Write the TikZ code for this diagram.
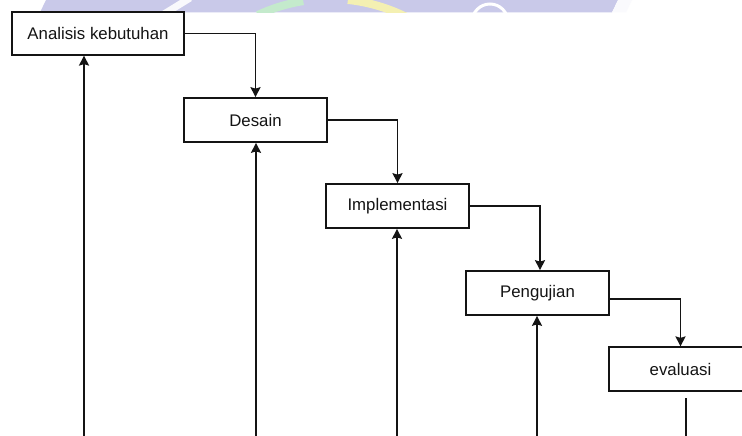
\documentclass[tikz,border=0pt]{standalone}
\usepackage{fontspec}
\setmainfont{Liberation Sans}
\usetikzlibrary{arrows.meta,calc}
\definecolor{band}{RGB}{201,201,233}
\definecolor{bandgreen}{RGB}{196,234,204}
\definecolor{bandyellow}{RGB}{244,240,178}
\definecolor{ink}{RGB}{20,20,20}
\tikzset{
  stage/.style={draw=ink, line width=1.7pt, fill=white, minimum height=44pt,
    minimum width=143pt, inner sep=0pt, font=\fontsize{16.8}{20}\selectfont, text=ink},
  flow/.style={draw=ink, line width=1.7pt, -{Stealth[width=10pt,length=10pt,inset=1.5pt]}},
  plain/.style={draw=ink, line width=1.7pt}
}
\begin{document}
\begin{tikzpicture}[x=1pt,y=-1pt]
\useasboundingbox (0,0) rectangle (742,436);
\fill[white] (0,0) rectangle (742,436);

% faint banner strip along the top edge
\begin{scope}
  \clip (0,0) rectangle (742,12.5);
  \fill[band] (40,12.5) -- (46,0) -- (618,0) -- (612,12.5) -- cycle;
  \draw[white, line width=7pt, opacity=0.9] (164,14) -- (190,-2);
  \draw[bandgreen, line width=8pt] (330,170) ++(-115:171) arc[start angle=-115, end angle=-99, radius=171];
  \draw[bandyellow, line width=8pt] (330,170) ++(-84:171) arc[start angle=-84, end angle=-62, radius=171];
  \draw[white, line width=3pt] (490,22) circle[radius=18];
  \fill[white!90!band] (618,0) -- (632,0) -- (626,12.5) -- (612,12.5) -- cycle;
\end{scope}

% process stages
\node[stage, minimum width=172pt, minimum height=42.5pt] (ana) at (98,33.5) {Analisis kebutuhan};
\node[stage] (des) at (255.5,120) {Desain};
\node[stage] (imp) at (397.5,206) {Implementasi};
\node[stage] (uji) at (537.5,293) {Pengujian};
\node[stage, minimum height=43.5pt] (eva) at (680.5,369) {evaluasi};

% forward flow between stages
\draw[flow] (ana.east) -| (des.north);
\draw[flow] (des.east) -| (imp.north);
\draw[flow] (imp.east) -| ($(uji.north)+(2.5,0)$);
\draw[flow] ($(uji.east)+(0,6)$) -| (eva.north);

% feedback lines rising from below
\coordinate (f1) at (84,436);
\coordinate (f2) at (256,436);
\coordinate (f3) at (397,436);
\coordinate (f4) at (537,436);
\coordinate (e1) at (686,398);
\coordinate (e2) at (686,436);
\draw[flow] (f1) -- (f1 |- ana.south);
\draw[flow] (f2) -- (f2 |- des.south);
\draw[flow] (f3) -- (f3 |- imp.south);
\draw[flow] (f4) -- (f4 |- uji.south);
\draw[plain] (e1) -- (e2);
\end{tikzpicture}
\end{document}
